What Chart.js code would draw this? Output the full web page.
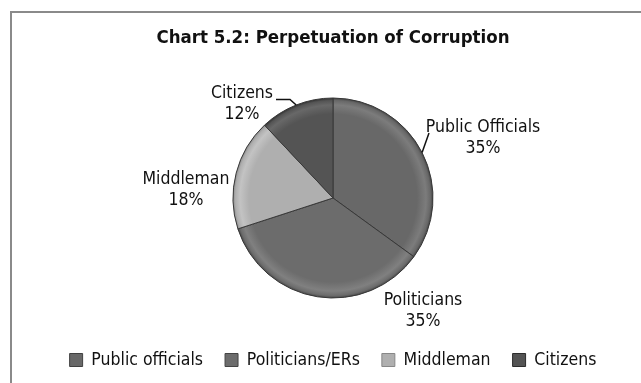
<!DOCTYPE html>
<html>
<head>
<meta charset="utf-8">
<script src="https://cdn.jsdelivr.net/npm/chart.js@4.4.0/dist/chart.umd.min.js"></script>
<style>
  html, body { margin: 0; padding: 0; background: #fff; }
</style>
</head>
<body>
<canvas id="pieChart" width="641" height="383"></canvas>
<script>
//データ
const categories = ['Public officials', 'Politicians/ERs', 'Middleman', 'Citizens'];
const sliceNames = ['Public Officials', 'Politicians', 'Middleman', 'Citizens'];
const shares = [35, 35, 18, 12];

//色
const sliceColors = ['#686868', '#6c6c6c', '#afafaf', '#545454'];
const narrowFont = "'Liberation Sans Narrow', 'DejaVu Sans Condensed', 'Arial Narrow', sans-serif";
const pieRadius = 100;

//ラベルの位置（中心からの距離、半径単位）
const labelPos = [[1.50, -0.60], [0.90, 1.13], [-1.47, -0.08], [-0.91, -0.94]];
const leaders = [[[0.96, -0.65]], null, null, [[-0.43, -0.985], [-0.57, -0.985]]];

function shade(hex, amt) {
  const n = parseInt(hex.slice(1), 16);
  const f = v => Math.max(0, Math.min(255, v + amt));
  const r = f(n >> 16), g = f((n >> 8) & 255), b = f(n & 255);
  return 'rgb(' + r + ',' + g + ',' + b + ')';
}

//立体っぽいグラデーション
function sliceFill(c) {
  const base = sliceColors[c.dataIndex];
  const area = c.chart.chartArea;
  if (!area) return base;
  const cx = (area.left + area.right) / 2;
  const cy = (area.top + area.bottom) / 2;
  const g = c.chart.ctx.createRadialGradient(cx, cy, 0, cx, cy, pieRadius);
  g.addColorStop(0, base);
  g.addColorStop(0.84, base);
  g.addColorStop(0.93, shade(base, 20));
  g.addColorStop(0.975, shade(base, 0));
  g.addColorStop(1, shade(base, -35));
  return g;
}

//枠線
const framePlugin = {
  id: 'frame',
  beforeDraw(chart) {
    const ctx = chart.ctx;
    ctx.save();
    ctx.fillStyle = '#fff';
    ctx.fillRect(0, 0, chart.width, chart.height);
    ctx.strokeStyle = '#8a8a8a';
    ctx.lineWidth = 2;
    ctx.beginPath();
    ctx.moveTo(11, chart.height);
    ctx.lineTo(11, 12);
    ctx.lineTo(chart.width, 12);
    ctx.stroke();
    ctx.restore();
  }
};

//スライスのラベルと引き出し線
const labelPlugin = {
  id: 'sliceLabels',
  afterDatasetsDraw(chart) {
    const ctx = chart.ctx;
    const arcs = chart.getDatasetMeta(0).data;
    const total = shares.reduce((a, b) => a + b, 0);
    ctx.save();
    ctx.font = '17.5px ' + narrowFont;
    ctx.fillStyle = '#111';
    ctx.textAlign = 'center';
    ctx.textBaseline = 'middle';
    arcs.forEach((arc, i) => {
      const r = arc.outerRadius;
      const lx = arc.x + labelPos[i][0] * r;
      const ly = arc.y + labelPos[i][1] * r;
      ctx.fillText(sliceNames[i], lx, ly - 10.5);
      ctx.fillText(Math.round(shares[i] / total * 100) + '%', lx, ly + 10.5);
      if (leaders[i]) {
        const mid = (arc.startAngle + arc.endAngle) / 2;
        ctx.beginPath();
        ctx.moveTo(arc.x + Math.cos(mid) * r, arc.y + Math.sin(mid) * r);
        leaders[i].forEach(p => ctx.lineTo(arc.x + p[0] * r, arc.y + p[1] * r));
        ctx.strokeStyle = '#111';
        ctx.lineWidth = 1.5;
        ctx.stroke();
      }
    });
    ctx.restore();
  }
};

let pieCtx = document.getElementById('pieChart');
let pieChart = new Chart(pieCtx, {
  type: 'pie',
  data: {
    labels: categories,
    datasets: [{
      data: shares,
      backgroundColor: sliceFill,
      borderColor: '#383838',
      borderWidth: 1,
    }],
  },
  options: {
    responsive: false,
    animation: false,
    radius: pieRadius,
    layout: { padding: { left: 25, right: 0, top: 0, bottom: 4.25 } },
    plugins: {
      title: {
        display: true,
        text: 'Chart 5.2: Perpetuation of Corruption',
        color: '#111',
        font: { family: narrowFont, size: 18.5, weight: 'bold' },
        padding: { top: 26.9, bottom: 17.65 },
      },
      legend: {
        position: 'bottom',
        labels: {
          color: '#111',
          font: { family: narrowFont, size: 17.5 },
          boxWidth: 13,
          boxHeight: 13,
          padding: 22,
          generateLabels: () => categories.map((name, i) => ({
            text: name,
            fillStyle: sliceColors[i],
            strokeStyle: shade(sliceColors[i], -40),
            lineWidth: 1,
            fontColor: '#111',
            hidden: false,
            index: i,
          })),
        },
      },
      tooltip: { enabled: false },
    },
  },
  plugins: [framePlugin, labelPlugin],
});
</script>
</body>
</html>
